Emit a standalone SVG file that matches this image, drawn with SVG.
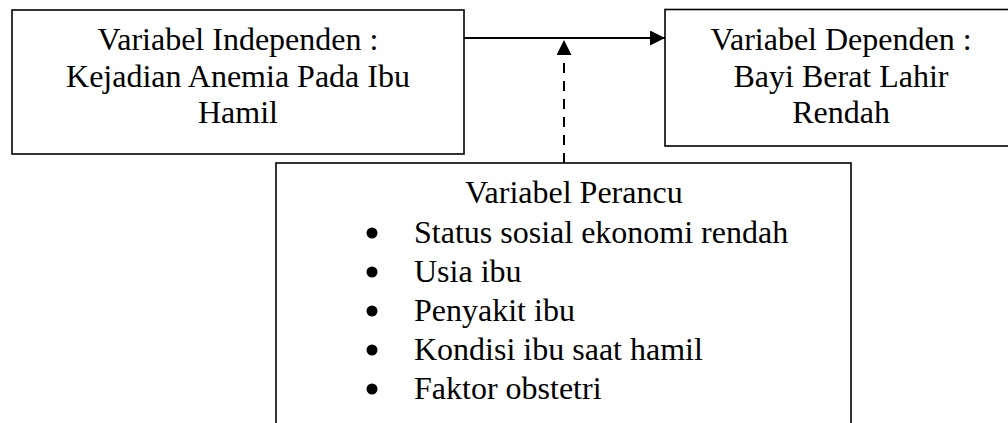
<svg xmlns="http://www.w3.org/2000/svg" width="1008" height="423" viewBox="0 0 1008 423">
<style>
.box{fill:#fff;stroke:#000;stroke-width:1.6}
.t{font-family:"Liberation Serif","Times New Roman",serif;font-size:32px;fill:#000}
.c{text-anchor:middle}
.ln{stroke:#000;stroke-width:2;fill:none}
.dash{stroke:#000;stroke-width:2;fill:none;stroke-dasharray:10 8}
</style>
<defs>
<marker id="ah" markerWidth="15" markerHeight="15" refX="15" refY="7.5" orient="auto" markerUnits="userSpaceOnUse">
<path d="M0,0 L15,7.5 L0,15 Z" fill="#000"/>
</marker>
</defs>
<g id="connectors">
<line class="ln" x1="464" y1="38" x2="665" y2="38" marker-end="url(#ah)"/>
<line class="dash" x1="564" y1="163" x2="564" y2="40" marker-end="url(#ah)"/>
</g>
<g id="independen">
<rect class="box" x="12" y="10" width="452" height="144"/>
<text class="t c" x="238" y="50">Variabel Independen :</text>
<text class="t c" x="238" y="86.5">Kejadian Anemia Pada Ibu</text>
<text class="t c" x="238" y="123">Hamil</text>
</g>
<g id="dependen">
<rect class="box" x="665" y="9.5" width="360" height="136.5"/>
<text class="t c" x="841" y="50">Variabel Dependen :</text>
<text class="t c" x="841" y="86.5">Bayi Berat Lahir</text>
<text class="t c" x="841" y="123">Rendah</text>
</g>
<g id="perancu">
<rect class="box" x="276" y="163" width="575" height="280"/>
<text class="t" x="465" y="203">Variabel Perancu</text>
<circle cx="372" cy="233" r="5.5"/>
<text class="t" x="414" y="243">Status sosial ekonomi rendah</text>
<circle cx="372" cy="272" r="5.5"/>
<text class="t" x="414" y="282">Usia ibu</text>
<circle cx="372" cy="311" r="5.5"/>
<text class="t" x="414" y="321">Penyakit ibu</text>
<circle cx="372" cy="350" r="5.5"/>
<text class="t" x="414" y="360">Kondisi ibu saat hamil</text>
<circle cx="372" cy="389" r="5.5"/>
<text class="t" x="414" y="399">Faktor obstetri</text>
</g>
</svg>
